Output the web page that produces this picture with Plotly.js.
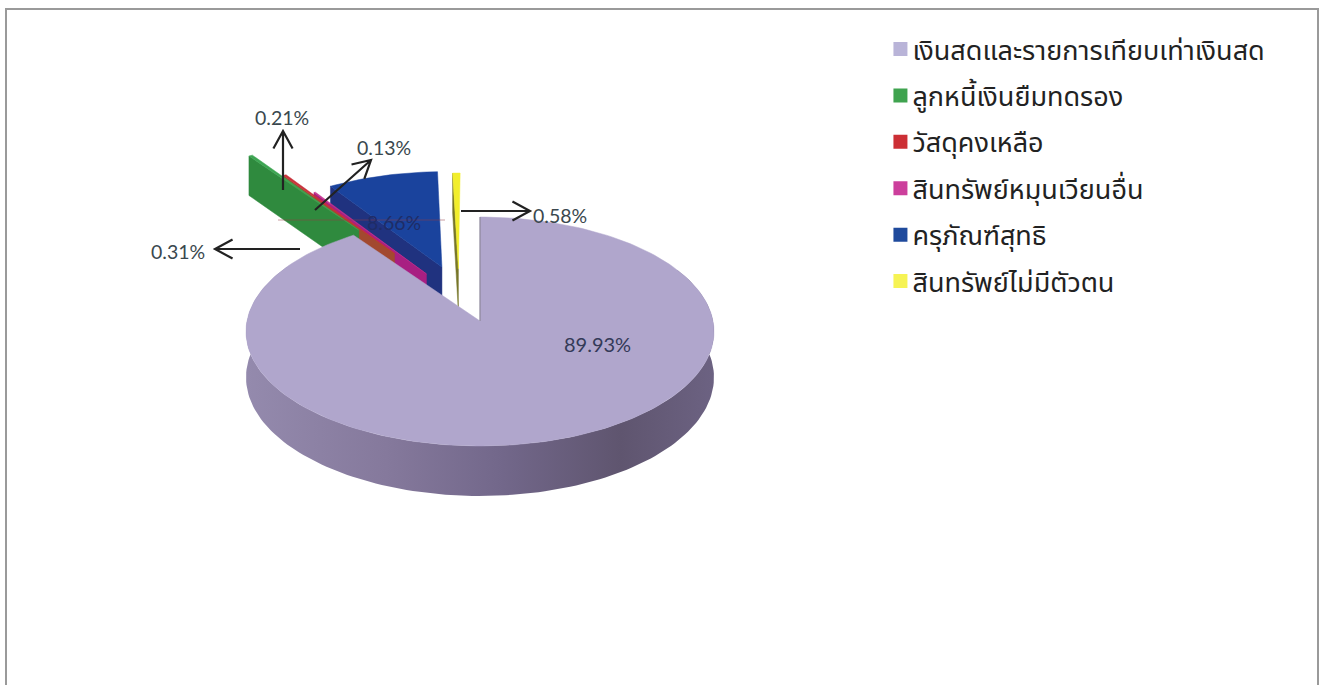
<!DOCTYPE html>
<html><head><meta charset="utf-8">
<script src="https://cdn.plot.ly/plotly-3.0.1.min.js"></script>
<style>html,body{margin:0;padding:0;background:#fff}#c{width:1320px;height:685px}</style>
</head><body><div id="c"></div>
<script>
// ---- data ----
const categories = ['เงินสดและรายการเทียบเท่าเงินสด','ลูกหนี้เงินยืมทดรอง','วัสดุคงเหลือ','สินทรัพย์หมุนเวียนอื่น','ครุภัณฑ์สุทธิ','สินทรัพย์ไม่มีตัวตน'];
const values = [89.93, 0.31, 0.21, 0.13, 8.66, 0.58];
// ---- style ----
const legendColors = ['#b9b4d8','#3fa34f','#cc2f35','#cc3f9c','#1f4a9c','#f6f354'];
const topColors = ['#b0a6cc','#3da552','#c9303a','#c4308e','#1a439d','#f2ee2c'];
const wallColors = ['#7b7092','#2f8a3e','#a2492f','#a81f82','#20327f','#77762a'];
const explode = [0, 1.03, 0.74, 0.493, 0.525, 0.49];
const explodeDir = [0, 327, 328.4, 331, 341, 348.6];
const labelPos = [[597,344],[178,251],[282,117],[384,147],[394,222],[560,215]];
// ---- projection of the tilted pie onto the frame ----
const ax=480, ay=321, R=233, S=113.5, K=0.0917, D=45.4;
const rad=a=>a*Math.PI/180;
const proj=(u,v,drop)=>{const w=1+K*v;return [ax+R*u/w, ay-S*v/w+(drop?D/w:0)];};
const total=values.reduce((a,b)=>a+b,0);
let acc=0;
const slices=values.map((val,i)=>{const t0=acc/total*360;acc+=val;const t1=acc/total*360;
  const d=rad(explodeDir[i]);return {i,t0,t1,eu:explode[i]*Math.sin(d),ev:explode[i]*Math.cos(d)};});
const rim=(s,a,drop)=>proj(s.eu+Math.sin(rad(a)),s.ev+Math.cos(rad(a)),drop);
const arc=(s,a0,a1,drop)=>{const n=Math.max(2,Math.ceil(Math.abs(a1-a0)/1.5));const o=[];
  for(let j=0;j<=n;j++)o.push(rim(s,a0+(a1-a0)*j/n,drop));return o;};
const poly=(pts,color,extra)=>Object.assign({type:'scatter',mode:'lines',x:pts.map(p=>p[0]),y:pts.map(p=>p[1]),
  fill:'toself',fillcolor:color,line:{width:0.5,color:color},hoverinfo:'skip',showlegend:false},extra||{});
const traces=[];
// back-to-front: yellow, blue, magenta, red, green, main
[5,4,3,2,1].forEach(i=>{const s=slices[i];
  const a0=proj(s.eu,s.ev,false),a1=proj(s.eu,s.ev,true);
  traces.push(poly([a0,rim(s,s.t0,false),rim(s,s.t0,true),a1,a0],wallColors[i]));
  traces.push(poly([a0].concat(arc(s,s.t0,s.t1,false)).concat([a0]),topColors[i]));
});
const m=slices[0];
const wallPts=arc(m,62,300,false).concat(arc(m,300,62,true));
wallPts.push(wallPts[0]);
traces.push(poly(wallPts,'#7b7092',{line:{width:0},fillgradient:{type:'horizontal',colorscale:[[0,'#948aad'],[0.3,'#85799c'],[0.55,'#72678a'],[0.8,'#5f556f'],[1,'#6c6282']]}}));
const apex=proj(0,0,false);
traces.push(poly([apex].concat(arc(m,m.t0,m.t1,false)).concat([apex]),topColors[0]));
traces.push({type:'scatter',mode:'lines',x:[apex[0],rim(m,0,false)[0]],y:[apex[1],rim(m,0,false)[1]],line:{color:'#85808f',width:1},hoverinfo:'skip',showlegend:false});
// legend entries
categories.forEach((c,i)=>traces.push({type:'scatter',mode:'markers',x:[null],y:[null],name:c,legendgroup:'g'+i,
  marker:{symbol:'square',size:14,color:legendColors[i]},hoverinfo:'skip'}));
// arrows
const arrow=(x0,y0,x1,y1)=>{const a=Math.atan2(y1-y0,x1-x0),L=20,W=0.5;
  const h=s=>[x1-L*Math.cos(a+s*W),y1-L*Math.sin(a+s*W)];const p=h(1),q=h(-1);
  return {type:'path',xref:'x',yref:'y',path:`M${x0} ${y0}L${x1} ${y1}M${p[0]} ${p[1]}L${x1} ${y1}L${q[0]} ${q[1]}`,line:{color:'#222',width:2.2}};};
const shapes=[
  {type:'path',xref:'x',yref:'y',path:'M6 690L6 9L1318 9L1318 690',line:{color:'#9a9a9a',width:2}},
  {type:'line',xref:'x',yref:'y',x0:278,x1:445,y0:220,y1:220,line:{color:'rgba(150,60,70,0.5)',width:1}},
  arrow(283,190,283,131),arrow(315,210,371,160),arrow(300,249,215,249),arrow(461,211,530,211)
];
const annotations=values.map((v,i)=>({x:labelPos[i][0],y:labelPos[i][1],xref:'x',yref:'y',showarrow:false,
  text:v.toFixed(2)+'%',font:{family:'Lato, sans-serif',size:i===0?20:19.5,color:i===4?'#1f2c66':(i===0?'#343a58':'#3a484e')}}));
const layout={width:1320,height:685,margin:{l:0,r:0,t:0,b:0},paper_bgcolor:'#fff',plot_bgcolor:'#fff',
  xaxis:{range:[0,1320],visible:false,fixedrange:true},
  yaxis:{range:[685,0],visible:false,fixedrange:true},
  showlegend:true,
  legend:{x:0.667,y:0.9635,xanchor:'left',yanchor:'top',tracegroupgap:8.3,itemwidth:30,bgcolor:'rgba(0,0,0,0)',
    font:{family:'"Noto Sans", "Noto Sans Thai", sans-serif',size:27,color:'#222'}},
  shapes,annotations};
Plotly.newPlot('c',traces,layout,{displayModeBar:false,staticPlot:true}).then(()=>{
  document.querySelectorAll('#c .legendtext').forEach(t=>{t.setAttribute('x',parseFloat(t.getAttribute('x'))-8);});
});
</script></body></html>
